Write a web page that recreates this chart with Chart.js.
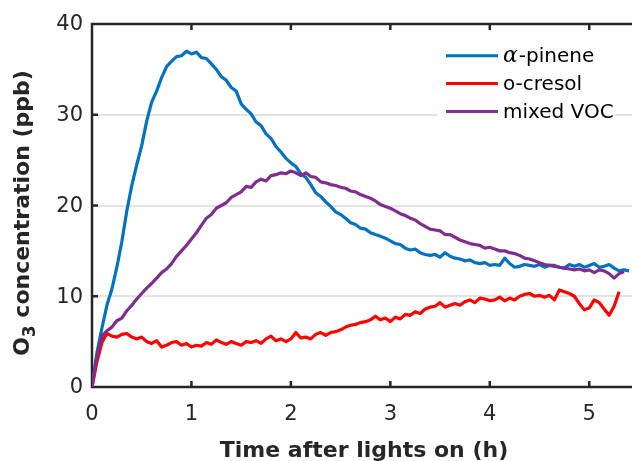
<!DOCTYPE html>
<html><head><meta charset="utf-8">
<script src="https://cdn.jsdelivr.net/npm/chart.js@4/dist/chart.umd.min.js"></script>
<style>html,body{margin:0;padding:0;background:#fff;overflow:hidden}</style>
</head><body>
<canvas id="c" width="632" height="461"></canvas>
<script>
// Time after lights on (h)
const times = [0.00,0.05,0.10,0.15,0.20,0.25,0.30,0.35,0.40,0.45,0.50,0.55,0.60,0.65,0.70,0.75,0.80,0.85,0.90,0.95,
1.00,1.05,1.10,1.15,1.20,1.25,1.30,1.35,1.40,1.45,1.50,1.55,1.60,1.65,1.70,1.75,1.80,1.85,1.90,1.95,
2.00,2.05,2.10,2.15,2.20,2.25,2.30,2.35,2.40,2.45,2.50,2.55,2.60,2.65,2.70,2.75,2.80,2.85,2.90,2.95,
3.00,3.05,3.10,3.15,3.20,3.25,3.30,3.35,3.40,3.45,3.50,3.55,3.60,3.65,3.70,3.75,3.80,3.85,3.90,3.95,
4.00,4.05,4.10,4.15,4.20,4.25,4.30,4.35,4.40,4.45,4.50,4.55,4.60,4.65,4.70,4.75,4.80,4.85,4.90,4.95,
5.00,5.05,5.10,5.15,5.20,5.25,5.30,5.35,5.40];

// O3 concentration (ppb)
const alphaPinene = [0,3.8,6.5,9.0,10.8,13.2,16.0,19.4,22.2,24.5,26.6,29.3,31.4,32.6,34.1,35.3,35.9,36.4,36.5,37.0,
36.7,36.9,36.3,36.2,35.6,35.0,34.2,33.8,33.0,32.6,31.2,30.6,30.1,29.2,28.8,27.9,27.4,26.5,25.9,25.2,
24.7,24.3,23.5,23.1,22.3,21.4,21.0,20.4,19.9,19.3,19.0,18.6,18.1,17.9,17.5,17.4,17.0,16.8,16.6,16.4,
16.1,15.8,15.7,15.3,15.1,15.2,14.8,14.6,14.5,14.6,14.3,14.8,14.4,14.2,14.1,13.9,14.0,13.7,13.6,13.7,
13.4,13.5,13.4,14.2,13.6,13.2,13.3,13.5,13.4,13.3,13.5,13.2,13.4,13.3,13.2,13.1,13.5,13.3,13.5,13.2,
13.4,13.6,13.2,13.3,13.5,13.1,12.8,12.9,12.8];

const oCresol = [0,2.8,4.9,5.9,5.6,5.5,5.8,5.9,5.5,5.3,5.5,5.0,4.8,5.1,4.4,4.6,4.9,5.0,4.6,4.8,
4.4,4.6,4.5,4.9,4.7,5.2,4.9,4.7,5.0,4.8,4.6,5.0,4.9,5.1,4.8,5.3,5.6,5.1,5.3,5.0,
5.3,6.0,5.4,5.5,5.3,5.8,6.0,5.7,6.0,6.1,6.3,6.6,6.8,6.9,7.1,7.2,7.4,7.8,7.4,7.6,
7.2,7.7,7.5,8.0,7.9,8.3,8.1,8.6,8.8,8.9,9.3,8.8,9.0,9.2,9.0,9.4,9.6,9.3,9.8,9.7,
9.5,9.6,9.9,9.5,9.8,9.6,10.0,10.2,10.3,10.0,10.1,9.9,10.1,9.6,10.7,10.5,10.3,10.0,9.2,8.5,
8.7,9.6,9.3,8.6,7.9,8.9,10.5,null,null];

const mixedVOC = [0,3.5,5.6,6.2,6.6,7.3,7.6,8.4,9.0,9.7,10.3,10.9,11.4,12.0,12.6,13.0,13.6,14.4,15.0,15.6,
16.3,17.0,17.8,18.6,19.0,19.7,20.0,20.3,20.9,21.2,21.5,22.1,22.0,22.6,22.9,22.7,23.3,23.4,23.6,23.5,
23.8,23.6,23.3,23.6,23.2,23.1,22.6,22.5,22.3,22.2,22.0,21.9,21.6,21.5,21.2,21.0,20.8,20.5,20.1,19.9,
19.7,19.4,19.1,18.9,18.6,18.4,18.0,17.7,17.4,17.3,17.2,16.8,16.8,16.5,16.2,16.0,15.8,15.7,15.6,15.3,
15.4,15.2,15.0,15.0,14.8,14.7,14.5,14.2,14.1,13.9,13.7,13.5,13.4,13.4,13.2,13.1,13.0,12.9,13.0,12.8,
12.9,12.6,12.9,12.8,12.5,12.0,12.5,12.7,null];

const seriesLabels = ['α-pinene', 'o-cresol', 'mixed VOC'];
const seriesColors = ['#0072BD', '#FF0000', '#7E2F8E'];
const xTickValues = [0, 1, 2, 3, 4, 5];
const yTickValues = [0, 10, 20, 30, 40];
const xTitle = 'Time after lights on (h)';
const yTitleMain = 'O';
const yTitleSub = '3';
const yTitleRest = ' concentration (ppb)';

const toPts = vals => times.map((t, i) => ({x: t, y: vals[i]})).filter(p => p.y !== null);

const INK = '#262626';
const TICKFONT = 'DejaVu Sans';

const framePlugin = {
  id: 'frame',
  beforeDatasetsDraw(chart) {
    const {ctx, chartArea: a, scales: {x, y}} = chart;
    ctx.save();
    ctx.strokeStyle = INK;
    ctx.lineWidth = 2.5;
    ctx.lineCap = 'butt';
    ctx.beginPath();
    ctx.moveTo(a.left, a.top); ctx.lineTo(a.right + 2, a.top);
    ctx.moveTo(a.left, a.top - 1.25); ctx.lineTo(a.left, a.bottom + 1.25);
    ctx.moveTo(a.left, a.bottom); ctx.lineTo(a.right + 2, a.bottom);
    xTickValues.forEach(v => {
      const px = x.getPixelForValue(v);
      ctx.moveTo(px, a.bottom); ctx.lineTo(px, a.bottom - 6);
      ctx.moveTo(px, a.top); ctx.lineTo(px, a.top + 6);
    });
    yTickValues.forEach(v => {
      const py = y.getPixelForValue(v);
      ctx.moveTo(a.left, py); ctx.lineTo(a.left + 6, py);
    });
    ctx.stroke();
    ctx.restore();
  },
  afterDraw(chart) {
    const {ctx, chartArea: a} = chart;
    ctx.save();
    // x title
    ctx.fillStyle = INK;
    ctx.font = 'bold 22px "DejaVu Sans"';
    ctx.textAlign = 'center';
    ctx.textBaseline = 'alphabetic';
    ctx.fillText(xTitle, (a.left + a.right) / 2 + 2, 457);
    // y title (rotated, with subscript)
    const fMain = 'bold 22px "DejaVu Sans"';
    const fSub = 'bold 17px "DejaVu Sans"';
    ctx.font = fMain;
    const wO = ctx.measureText(yTitleMain).width;
    const wR = ctx.measureText(yTitleRest).width;
    ctx.font = fSub;
    const w3 = ctx.measureText(yTitleSub).width;
    const total = wO + w3 + wR;
    const centerY = 213;
    ctx.translate(29, centerY);
    ctx.rotate(-Math.PI / 2);
    ctx.textAlign = 'left';
    let sx = -total / 2;
    ctx.font = fMain; ctx.fillText(yTitleMain, sx, 0); sx += wO;
    ctx.font = fSub; ctx.fillText(yTitleSub, sx, 6); sx += w3;
    ctx.font = fMain; ctx.fillText(yTitleRest, sx, 0);
    ctx.restore();

    // legend
    ctx.save();
    ctx.fillStyle = '#fff';
    ctx.fillRect(437, 40, 178, 86);
    const rows = [55.7, 83.5, 111.5];
    chart.data.datasets.forEach((ds, i) => {
      ctx.strokeStyle = ds.borderColor;
      ctx.lineWidth = 3;
      ctx.beginPath();
      ctx.moveTo(446, rows[i]); ctx.lineTo(498, rows[i]);
      ctx.stroke();
      ctx.fillStyle = '#000';
      ctx.textBaseline = 'middle';
      ctx.textAlign = 'left';
      let tx = 503;
      let label = ds.label;
      if (label.startsWith('α')) {
        ctx.font = 'italic 22px "DejaVu Serif"';
        ctx.fillText('α', tx, rows[i] + 1);
        tx += ctx.measureText('α').width + 1;
        label = label.slice(1);
      }
      ctx.font = '20px "DejaVu Sans"';
      ctx.fillText(label, tx, rows[i] + 1);
    });
    ctx.restore();
  }
};

const datasets = [
  {label: seriesLabels[0], data: toPts(alphaPinene), borderColor: seriesColors[0], order: 3},
  {label: seriesLabels[1], data: toPts(oCresol), borderColor: seriesColors[1], order: 2},
  {label: seriesLabels[2], data: toPts(mixedVOC), borderColor: seriesColors[2], order: 1}
].map(d => Object.assign(d, {borderWidth: 3.2, pointRadius: 0, tension: 0, fill: false, borderJoinStyle: 'round'}));

new Chart(document.getElementById('c'), {
  type: 'line',
  data: {datasets},
  options: {
    responsive: false,
    animation: false,
    devicePixelRatio: 1,
    layout: {padding: {left: 0, right: 0, top: 24, bottom: 0}},
    plugins: {legend: {display: false}, tooltip: {enabled: false}},
    scales: {
      x: {
        type: 'linear', min: 0, max: 5.43,
        afterBuildTicks: s => { s.ticks = xTickValues.map(v => ({value: v})); },
        afterFit: s => { s.height = 74; },
        grid: {display: false, drawTicks: false},
        border: {display: false},
        ticks: {color: INK, font: {family: TICKFONT, size: 21}, padding: 15, maxRotation: 0}
      },
      y: {
        type: 'linear', min: 0, max: 40,
        afterBuildTicks: s => { s.ticks = yTickValues.map(v => ({value: v})); },
        afterFit: s => { s.width = 92; },
        grid: {color: '#e3e3e3', lineWidth: 2, drawTicks: false},
        border: {display: false},
        ticks: {color: INK, font: {family: TICKFONT, size: 21}, padding: 9, labelOffset: 1}
      }
    }
  },
  plugins: [framePlugin]
});
</script>
</body></html>
